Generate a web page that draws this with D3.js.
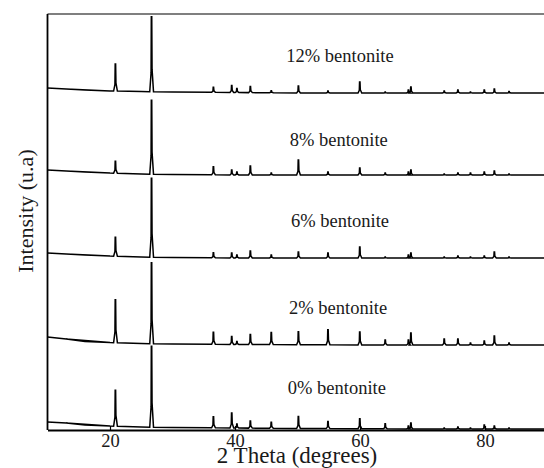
<!DOCTYPE html>
<html>
<head>
<meta charset="utf-8">
<script src="https://cdn.jsdelivr.net/npm/d3@7"></script>
<style>
  html, body { margin: 0; padding: 0; background: #fff; }
  svg { display: block; }
  text { font-family: "Liberation Serif", "Times New Roman", serif; fill: #1a1a1a; }
</style>
</head>
<body>
<svg id="chart" width="544" height="468"></svg>
<script>
// XRD patterns of samples with increasing bentonite content (stacked, arbitrary units)

// Reflection positions (2θ, degrees) shared by all patterns
const peakPositions = [20.86, 26.64, 36.54, 39.47, 40.30, 42.45, 45.80, 50.14, 54.87, 59.96,
                       64.03, 67.74, 68.14, 73.47, 75.66, 77.67, 79.88, 81.49, 83.84];

// Sample names, bottom to top
const samples = ["0% bentonite", "2% bentonite", "6% bentonite", "8% bentonite", "12% bentonite"];

// Peak heights above background for each sample (a.u.)
const heights0  = [36, 81, 11, 15, 4, 7, 6, 12, 7, 10, 5, 3, 6, 1, 2, 1, 4, 3, 1];
const heights2  = [43, 81, 12, 8, 3, 10, 12, 13, 15, 13, 5, 5, 12, 6, 6, 2, 4, 9, 2];
const heights6  = [19, 79, 5, 5, 3, 7, 3, 6, 5, 11, 1, 3, 5, 1, 2, 1, 2, 6, 1];
const heights8  = [12, 74, 8, 5, 3, 9, 2, 15, 3, 7, 2, 3, 5, 1, 2, 2, 3, 4, 1];
const heights12 = [27, 75, 5, 7, 4, 6, 2, 7, 2, 11, 1, 3, 6, 2, 3, 1, 3, 4, 1.5];

// Background level above each pattern's baseline at these 2θ values
const bgAngles = [10, 13, 16, 20, 25, 30, 40, 50, 60, 70, 80, 90];
const bg0  = [7, 6, 4, 3, 2, 1.5, 1, 0.5, 0.3, 0, 0, 0];
const bg2  = [8, 6, 3.5, 2.5, 1.5, 1, 0.5, 0.3, 0, 0, 0, 0];
const bg6  = [5, 4, 3, 2, 1, 0.5, 0, 0, 0, 0, 0, 0];
const bg8  = [5, 4, 3, 2, 1, 0.5, 0, 0, 0, 0, 0, 0];
const bg12 = [5, 4, 3, 2, 1.5, 1, 0.5, 0, 0, 0, 0, 0];

// Vertical stacking offset of each pattern (a.u.)
const offsets = [1, 85, 172, 255, 337];

// Label anchor for each pattern: 2θ and height above its baseline
const labelAngle = [56.3, 56.5, 56.8, 56.6, 56.8];
const labelLift  = [35, 31, 31, 29, 31];

const xTicks = [20, 40, 60, 80];

const allHeights = [heights0, heights2, heights6, heights8, heights12];
const allBg = [bg0, bg2, bg6, bg8, bg12];

const svg = d3.select("#chart");
const margin = { left: 47.5, top: 14, bottom: 430 };

const x = d3.scaleLinear().domain([10, 90]).range([margin.left, margin.left + 500]);
const y = d3.scaleLinear().domain([0, 416]).range([margin.bottom, margin.top]);

// Background interpolated linearly between the listed anchor angles
function background(bgVals, t) {
  const i = Math.max(1, d3.bisectRight(bgAngles, t));
  const j = Math.min(i, bgAngles.length - 1);
  const a0 = bgAngles[j - 1], a1 = bgAngles[j];
  const f = (t - a0) / (a1 - a0);
  return bgVals[j - 1] + (bgVals[j] - bgVals[j - 1]) * Math.max(0, Math.min(1, f));
}

// Build a pattern outline: background with sharp reflections on top
function pattern(k) {
  const h = allHeights[k], bgv = allBg[k], off = offsets[k];
  const pts = [];
  let last = 10;
  const pushBg = t => pts.push([t, off + background(bgv, t)]);
  bgAngles.forEach(t => { if (t < peakPositions[0] - 0.3) pushBg(t); });
  peakPositions.forEach((p, i) => {
    const base = off + background(bgv, p);
    bgAngles.forEach(t => { if (t > last && t < p - 0.3) pushBg(t); });
    pts.push([p - 0.28, base]);
    pts.push([p - 0.07, base + h[i] * 0.25]);
    pts.push([p - 0.03, base + h[i]]);
    pts.push([p + 0.04, base + h[i]]);
    pts.push([p + 0.09, base + h[i] * 0.3]);
    pts.push([p + 0.32, base]);
    last = p + 0.32;
  });
  bgAngles.forEach(t => { if (t > last) pushBg(t); });
  return pts;
}

const line = d3.line().x(d => x(d[0])).y(d => y(d[1]));

const g = svg.append("g");

samples.forEach((name, k) => {
  g.append("path")
    .datum(pattern(k))
    .attr("d", line)
    .attr("fill", "none")
    .attr("stroke", "#000")
    .attr("stroke-width", 1.5)
    .attr("stroke-linejoin", "miter");

  g.append("text")
    .attr("x", x(labelAngle[k]))
    .attr("y", y(offsets[k] + labelLift[k]))
    .attr("text-anchor", "middle")
    .attr("font-size", 18.5)
    .text(name);
});

// Frame: top border, left axis, bottom axis
svg.append("line")
  .attr("x1", x(10)).attr("x2", 544)
  .attr("y1", margin.top).attr("y2", margin.top)
  .attr("stroke", "#555").attr("stroke-width", 1.6);

svg.append("line")
  .attr("x1", x(10)).attr("x2", x(10))
  .attr("y1", margin.top).attr("y2", margin.bottom)
  .attr("stroke", "#000").attr("stroke-width", 1.8);

const xAxis = d3.axisBottom(x).tickValues(xTicks).tickSizeInner(-4).tickSizeOuter(0).tickPadding(4);
const ax = svg.append("g")
  .attr("transform", `translate(0,${margin.bottom})`)
  .call(xAxis);
ax.select(".domain").attr("stroke", "#000").attr("stroke-width", 1.8);
ax.selectAll(".tick line").attr("stroke", "#000").attr("stroke-width", 1.2);
ax.selectAll(".tick text")
  .attr("font-family", "Liberation Serif, serif")
  .attr("font-size", 18.5)
  .attr("fill", "#1a1a1a");

svg.append("text")
  .attr("x", 297)
  .attr("y", 463)
  .attr("text-anchor", "middle")
  .attr("font-size", 23)
  .text("2 Theta (degrees)");

svg.append("text")
  .attr("transform", "translate(33,211) rotate(-90)")
  .attr("text-anchor", "middle")
  .attr("font-size", 22)
  .text("Intensity (u.a)");
</script>
</body>
</html>
